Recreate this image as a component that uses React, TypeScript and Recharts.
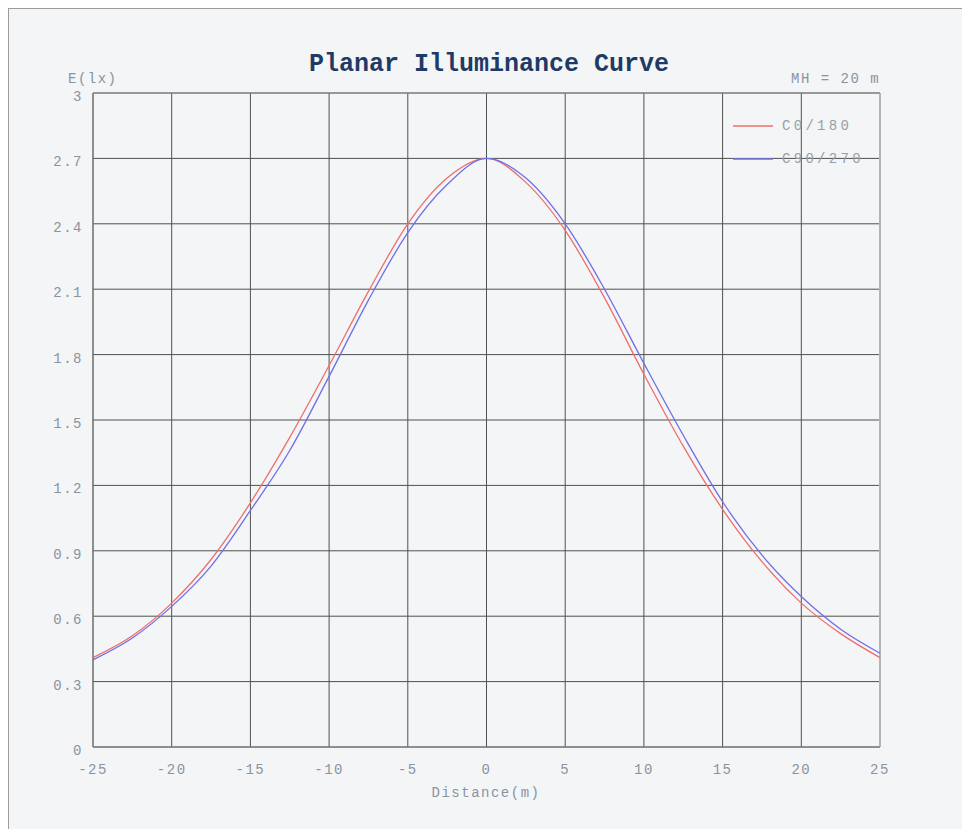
import React from "react";
import {
  LineChart,
  Line,
  XAxis,
  YAxis,
  CartesianGrid,
  ReferenceLine,
  Legend,
} from "recharts";

// distance from the luminaire (m)
const distances = [
  -25, -22.5, -20, -17.5, -15, -12.5, -10, -7.5, -5, -2.5, 0, 2.5, 5, 7.5, 10,
  12.5, 15, 17.5, 20, 22.5, 25,
];

// illuminance E (lx), C0/180 plane
const c0Values = [
  0.41, 0.51, 0.66, 0.86, 1.12, 1.42, 1.75, 2.09, 2.4, 2.61, 2.7, 2.59, 2.37,
  2.06, 1.71, 1.38, 1.09, 0.85, 0.66, 0.52, 0.41,
];

// illuminance E (lx), C90/270 plane
const c90Values = [
  0.4, 0.5, 0.645, 0.83, 1.085, 1.36, 1.7, 2.05, 2.36, 2.58, 2.7, 2.61, 2.4,
  2.1, 1.76, 1.43, 1.125, 0.88, 0.69, 0.54, 0.43,
];

const xTicks = [-25, -20, -15, -10, -5, 0, 5, 10, 15, 20, 25];
const yTicks = [0, 0.3, 0.6, 0.9, 1.2, 1.5, 1.8, 2.1, 2.4, 2.7, 3];

const series = [
  { key: "c0", name: "C0/180", color: "#ee6f6b" },
  { key: "c90", name: "C90/270", color: "#6f6fe6" },
];

const data = distances.map((d, i) => ({
  d,
  c0: c0Values[i],
  c90: c90Values[i],
}));

const FONT = '"Courier New", "Liberation Mono", monospace';
const TEXT = "#8a949f";

const XTick = ({ x, y, payload }: any) => (
  <text
    x={x}
    y={y + 25}
    textAnchor="middle"
    fill={TEXT}
    fontFamily={FONT}
    fontSize={14}
    letterSpacing={1.5}
  >
    {payload.value}
  </text>
);

const YTick = ({ x, y, payload }: any) => (
  <text
    x={x}
    y={y + 8}
    textAnchor="end"
    fill={TEXT}
    fontFamily={FONT}
    fontSize={14}
    letterSpacing={1.5}
  >
    {String(payload.value)}
  </text>
);

const renderLegend = () => (
  <div style={{ fontFamily: FONT }}>
    {series.map((s) => (
      <div
        key={s.key}
        style={{ display: "flex", alignItems: "center", height: 33 }}
      >
        <svg width={40} height={4} style={{ marginRight: 9 }}>
          <line x1={0} y1={2} x2={40} y2={2} stroke={s.color} strokeWidth={1.5} />
        </svg>
        <span style={{ color: "#979fa8", fontSize: 14, letterSpacing: 3.3 }}>
          {s.name}
        </span>
      </div>
    ))}
  </div>
);

export default function App() {
  return (
    <div
      style={{
        position: "fixed",
        top: 8,
        left: 8,
        width: 954,
        height: 821,
        boxSizing: "border-box",
        borderTop: "1px solid #9c9c9c",
        borderLeft: "1px solid #9c9c9c",
        background: "#f3f5f7",
        fontFamily: FONT,
        overflow: "hidden",
      }}
    >
      <div
        style={{
          position: "absolute",
          top: 43,
          left: 0,
          width: 960,
          textAlign: "center",
          fontSize: 25,
          lineHeight: "26px",
          fontWeight: "bold",
          color: "#1f3a64",
        }}
      >
        Planar Illuminance Curve
      </div>
      <div
        style={{
          position: "absolute",
          top: 62,
          left: 59,
          fontSize: 14,
          letterSpacing: 1.5,
          color: TEXT,
        }}
      >
        E(lx)
      </div>
      <div
        style={{
          position: "absolute",
          top: 62,
          left: 782,
          fontSize: 14,
          letterSpacing: 1.5,
          color: TEXT,
        }}
      >
        MH = 20 m
      </div>
      <div
        style={{
          position: "absolute",
          top: 776,
          left: 0,
          width: 954,
          textAlign: "center",
          fontSize: 14,
          letterSpacing: 1.5,
          color: TEXT,
        }}
      >
        Distance(m)
      </div>
      <LineChart
        width={953}
        height={820}
        data={data}
        margin={{ top: 84, right: 82, bottom: 32, left: 14 }}
      >
        <CartesianGrid stroke="#505050" strokeWidth={1} fill="none" />
        <XAxis
          dataKey="d"
          type="number"
          domain={[-25, 25]}
          ticks={xTicks}
          height={50}
          tickSize={0}
          tick={<XTick />}
          axisLine={{ stroke: "#7a7a7a" }}
          tickLine={false}
        />
        <YAxis
          type="number"
          domain={[0, 3]}
          ticks={yTicks}
          width={70}
          tickSize={0}
          tickMargin={10}
          tick={<YTick />}
          axisLine={{ stroke: "#7a7a7a" }}
          tickLine={false}
        />
        <ReferenceLine x={25} stroke="#b4b4b4" strokeWidth={2} />
        <ReferenceLine y={3} stroke="#8c8c8c" />
        <Legend
          verticalAlign="middle"
          align="center"
          layout="horizontal"
          content={renderLegend}
          wrapperStyle={{ top: 100, left: 724, width: 160 }}
        />
        {series.map((s) => (
          <Line
            key={s.key}
            type="monotone"
            dataKey={s.key}
            name={s.name}
            stroke={s.color}
            strokeWidth={1.3}
            dot={false}
            isAnimationActive={false}
          />
        ))}
      </LineChart>
    </div>
  );
}
